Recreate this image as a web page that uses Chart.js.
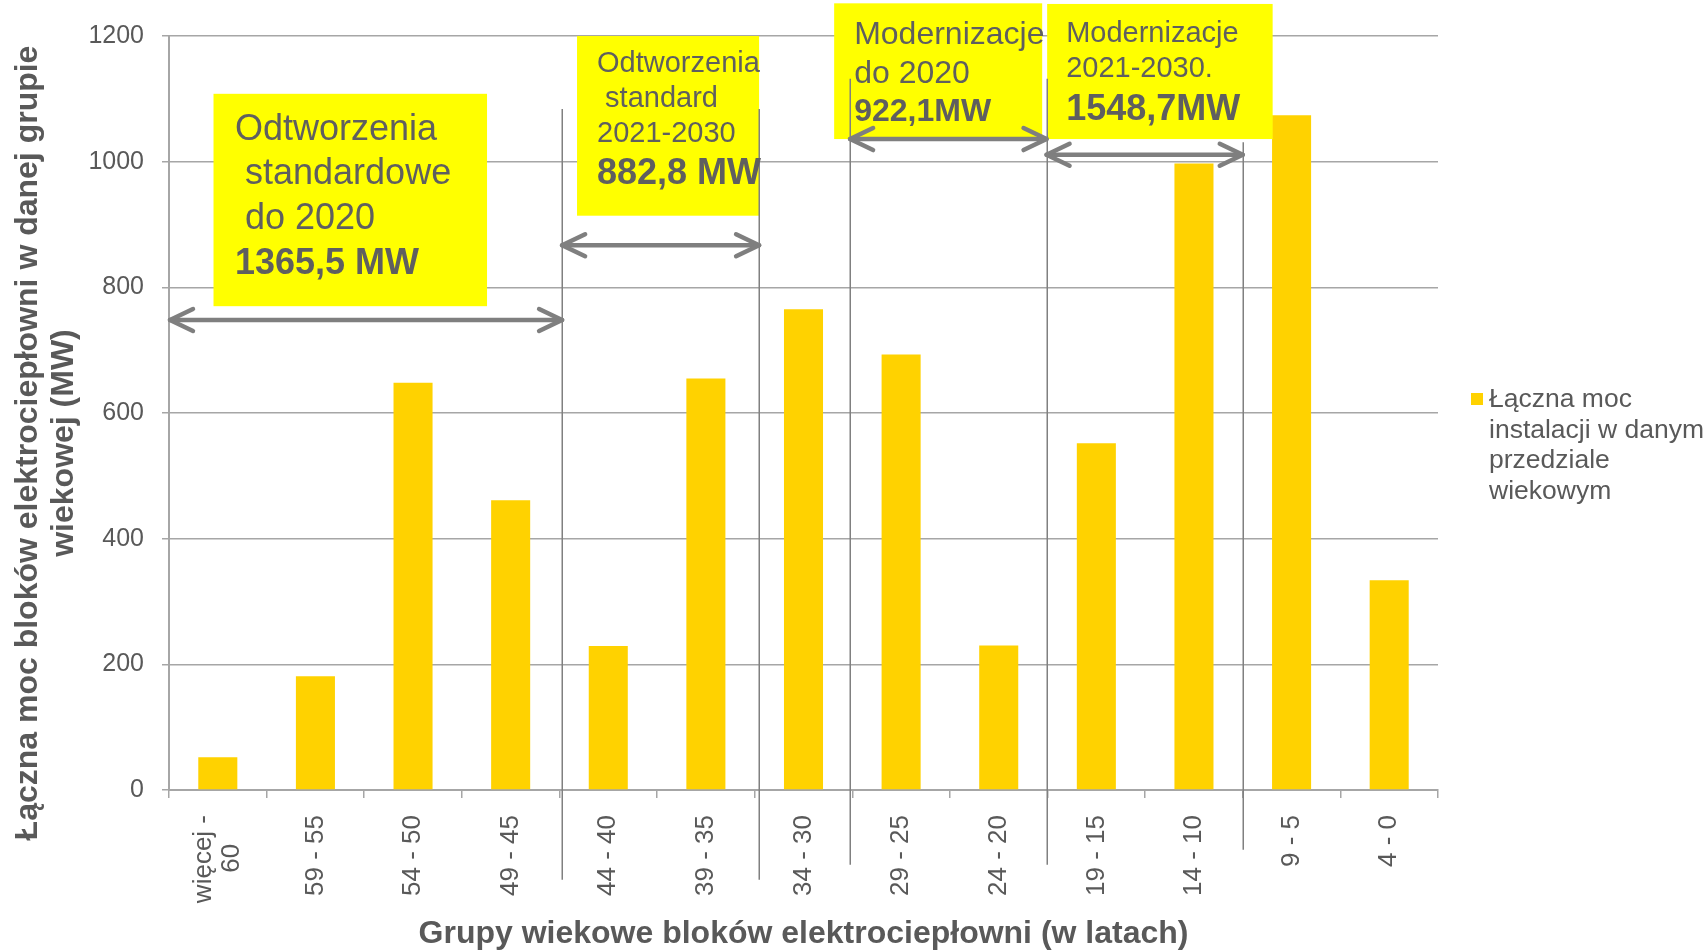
<!DOCTYPE html>
<html>
<head>
<meta charset="utf-8">
<script src="https://cdn.jsdelivr.net/npm/chart.js@4.4.1/dist/chart.umd.min.js"></script>
<style>
  html, body { margin: 0; padding: 0; background: #ffffff; }
  #c { display: block; }
</style>
</head>
<body>
<canvas id="c" width="1708" height="950"></canvas>
<script>
// ---- data ----
const categories = [["więcej -", "60    "], "59 - 55", "54 - 50", "49 - 45", "44 - 40", "39 - 35",
                    "34 - 30", "29 - 25", "24 - 20", "19 - 15", "14 - 10", "9 - 5", "4 - 0"];
const capacityMW = [52, 181, 648, 461, 229, 655, 765, 693, 230, 552, 997, 1074, 334];
const seriesLabel = "Łączna moc instalacji w danym przedziale wiekowym";
const legendLines = ["Łączna moc", "instalacji w danym", "przedziale", "wiekowym"];
const yTickValues = [0, 200, 400, 600, 800, 1000, 1200];
const yTitleLines = ["Łączna moc bloków elektrociepłowni w danej grupie", "wiekowej (MW)"];
const xTitle = "Grupy wiekowe bloków elektrociepłowni (w latach)";

// group callouts (text)
const groupTexts = [
  ["Odtworzenia", " standardowe", " do 2020", "1365,5 MW"],
  ["Odtworzenia", " standard", "2021-2030", "882,8 MW"],
  ["Modernizacje", "do 2020", "922,1MW"],
  ["Modernizacje", "2021-2030.", "1548,7MW"]
];

// ---- styling / layout of the callouts (x in category units, y in MW) ----
const FONT = "'Liberation Sans', Arial, Helvetica, sans-serif";
const GREY_TEXT = '#5f5f5f';
const AXIS_GREY = '#a6a6a6';

const calloutBoxes = [
  { x0: -0.044, x1: 2.758, top: 1108, bottom: 770, tx: 21.5, base: [46, 90.5, 135, 180],
    fonts: ['36px', '36px', '36px', 'bold 36px'] },
  { x0: 3.68, x1: 5.545, top: 1200, bottom: 914, tx: 20, base: [36, 70.5, 105.5, 148],
    fonts: ['29px', '29px', '29px', 'bold 36px'] },
  { x0: 6.314, x1: 8.445, top: 1252, bottom: 1036, tx: 20, base: [41, 79.5, 117.5],
    fonts: ['32px', '32px', 'bold 32px'] },
  { x0: 8.496, x1: 10.806, top: 1251, bottom: 1036, tx: 19, base: [38, 73, 116],
    fonts: ['29px', '29px', 'bold 36px'] }
];
const separators = [
  { x: 3.527, top: 1084, bottom: -143 },
  { x: 5.545, top: 1084, bottom: -143 },
  { x: 6.477, top: 1132, bottom: -119 },
  { x: 8.49, top: 1132, bottom: -119 },
  { x: 10.5, top: 1031, bottom: -95 }
];
const spanArrows = [
  { x0: -0.49, x1: 3.527, y: 748 },
  { x0: 3.527, x1: 5.545, y: 867 },
  { x0: 6.477, x1: 8.49, y: 1036 },
  { x0: 8.49, x1: 10.5, y: 1011 }
];

const BAR_COLOR = '#FFD200';

function drawArrowHead(ctx, tx, ty, dir) {
  ctx.beginPath();
  ctx.moveTo(tx + dir * 23, ty - 11);
  ctx.lineTo(tx, ty);
  ctx.lineTo(tx + dir * 23, ty + 11);
  ctx.stroke();
}

const calloutPlugin = {
  id: 'groupCallouts',
  beforeDraw(chart) {
    // centre the two-line first category label on its tick
    const items = chart.scales.x.getLabelItems();
    if (items.length && !items._centred) {
      items[0].options.translation[0] -= 13.5;
      items._centred = true;
    }
  },
  afterDatasetsDraw(chart) {
    const { ctx } = chart;
    const xs = chart.scales.x, ys = chart.scales.y;
    const X = v => xs.getPixelForValue(v);
    const Y = v => ys.getPixelForValue(v);
    ctx.save();

    // yellow callout boxes
    ctx.fillStyle = '#FFFF00';
    calloutBoxes.forEach(b => {
      ctx.fillRect(X(b.x0), Y(b.top), X(b.x1) - X(b.x0), Y(b.bottom) - Y(b.top));
    });

    // vertical group separators
    ctx.strokeStyle = '#808080';
    ctx.lineWidth = 1.5;
    separators.forEach(s => {
      const px = Math.round(X(s.x)) + 0.25;
      ctx.beginPath();
      ctx.moveTo(px, Y(s.top));
      ctx.lineTo(px, Y(s.bottom));
      ctx.stroke();
    });

    // double-headed span arrows
    ctx.strokeStyle = '#7f7f7f';
    ctx.lineWidth = 4.5;
    ctx.lineCap = 'round';
    ctx.lineJoin = 'round';
    spanArrows.forEach(a => {
      const xa = X(a.x0), xb = X(a.x1), py = Y(a.y);
      ctx.beginPath();
      ctx.moveTo(xa, py);
      ctx.lineTo(xb, py);
      ctx.stroke();
      drawArrowHead(ctx, xa, py, 1);
      drawArrowHead(ctx, xb, py, -1);
    });

    // callout texts
    ctx.fillStyle = GREY_TEXT;
    ctx.textBaseline = 'alphabetic';
    ctx.textAlign = 'left';
    calloutBoxes.forEach((b, i) => {
      const left = X(b.x0), top = Y(b.top);
      groupTexts[i].forEach((line, j) => {
        ctx.font = b.fonts[j] + ' ' + FONT;
        ctx.fillText(line, left + b.tx, top + b.base[j]);
      });
    });
    ctx.restore();
  },
  afterDraw(chart) {
    const { ctx } = chart;
    ctx.save();
    // legend on the right
    const ds = chart.data.datasets[0];
    ctx.fillStyle = ds.backgroundColor;
    ctx.fillRect(1471, 393, 12, 12);
    ctx.fillStyle = '#595959';
    ctx.font = '26.5px ' + FONT;
    ctx.textAlign = 'left';
    ctx.textBaseline = 'middle';
    legendLines.forEach((line, i) => ctx.fillText(line, 1489, 400 + i * 30.5));

    // vertical axis title (two lines, centred on the full figure height)
    ctx.translate(0, 443);
    ctx.rotate(-Math.PI / 2);
    ctx.font = 'bold 32px ' + FONT;
    ctx.textAlign = 'center';
    ctx.textBaseline = 'middle';
    ctx.fillStyle = '#595959';
    ctx.fillText(yTitleLines[0], 0, 28);
    ctx.fillText(yTitleLines[1], 0, 64);
    ctx.restore();
  }
};

new Chart(document.getElementById('c'), {
  type: 'bar',
  data: {
    labels: categories,
    datasets: [{
      label: seriesLabel,
      data: capacityMW,
      backgroundColor: BAR_COLOR,
      borderWidth: 0,
      barPercentage: 0.4,
      categoryPercentage: 1.0
    }]
  },
  options: {
    responsive: false,
    animation: false,
    devicePixelRatio: 1,
    layout: { padding: { top: 36, right: 270, bottom: 0, left: 0 } },
    plugins: {
      legend: { display: false },
      tooltip: { enabled: false }
    },
    scales: {
      x: {
        offset: true,
        grid: { display: true, drawOnChartArea: false, drawTicks: true, tickLength: 8,
                color: AXIS_GREY, lineWidth: 1.5, offset: true },
        border: { display: true, color: AXIS_GREY, width: 2 },
        ticks: {
          autoSkip: false, minRotation: 90, maxRotation: 90, padding: 17,
          color: '#595959', font: { family: FONT, size: 26, lineHeight: 1.05 }
        },
        title: {
          display: true, text: xTitle, color: '#595959',
          font: { family: FONT, size: 32, weight: 'bold', lineHeight: 1 },
          padding: { top: 0, bottom: 0 }
        },
        afterFit(s) { s.height = 160; }
      },
      y: {
        min: 0, max: 1200,
        afterBuildTicks(s) { s.ticks = yTickValues.map(v => ({ value: v })); },
        grid: { color: AXIS_GREY, lineWidth: 1.5, tickLength: 7 },
        border: { display: true, color: AXIS_GREY, width: 2 },
        ticks: {
          padding: 18, color: '#595959', font: { family: FONT, size: 25 },
          callback: v => String(v)
        },
        afterFit(s) { s.width = 169; }
      }
    }
  },
  plugins: [calloutPlugin]
});
</script>
</body>
</html>
